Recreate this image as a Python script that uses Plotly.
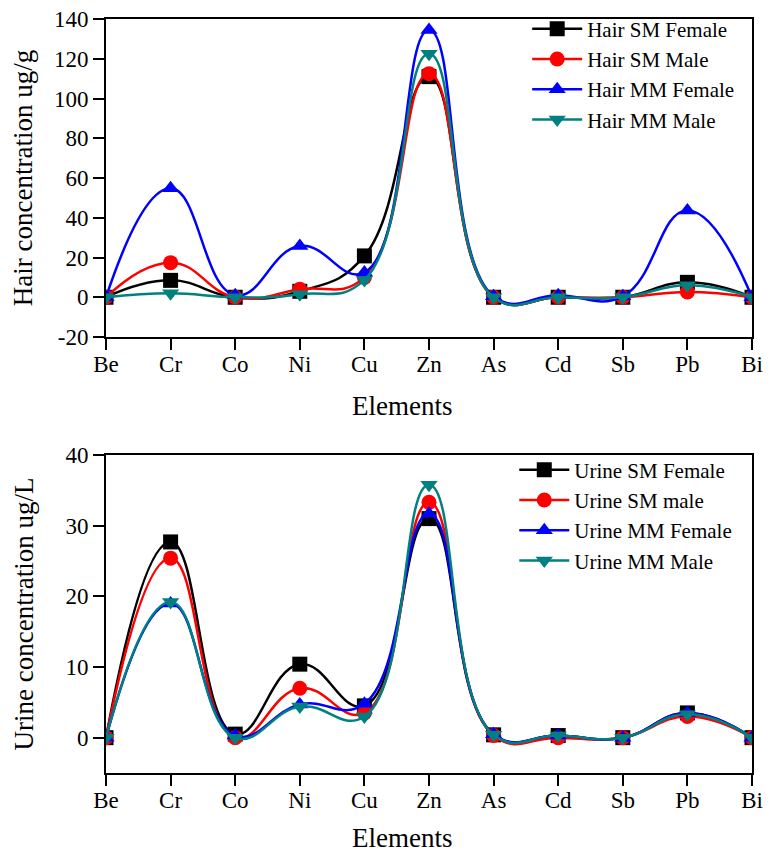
import plotly.graph_objects as go
from plotly.subplots import make_subplots

elements = ["Be", "Cr", "Co", "Ni", "Cu", "Zn", "As", "Cd", "Sb", "Pb", "Bi"]

hair_sm_female = [0, 8.5, 0, 3.0, 20.8, 111, 0, 0, 0, 7.5, 0]
hair_sm_male = [0, 17.4, 0, 4.0, 10.0, 112.5, 0, 0, 0, 2.7, 0]
hair_mm_female = [0, 54.8, 1.0, 25.8, 12.5, 134.5, 0.5, 1.0, 0.5, 43.7, 0]
hair_mm_male = [0, 2.0, 0, 1.5, 8.7, 122.5, 0, 0, 0, 6.0, 0]

urine_sm_female = [0, 27.7, 0.5, 10.4, 4.5, 31.0, 0.4, 0.3, 0, 3.5, 0]
urine_sm_male = [0, 25.4, 0, 7.0, 3.5, 33.3, 0.3, 0, 0, 3.0, 0]
urine_mm_female = [0, 19.0, 0.3, 4.7, 4.8, 31.7, 0.5, 0.3, 0, 3.5, 0]
urine_mm_male = [0, 19.2, 0, 4.4, 3.0, 35.8, 0.4, 0.3, 0, 3.3, 0]

hair_ticks = [-20, 0, 20, 40, 60, 80, 100, 120, 140]
hair_tick_text = ["-20", "0", "20", "40", "60", "80", "100", "120", "140"]
urine_ticks = [0, 10, 20, 30, 40]
urine_tick_text = ["0", "10", "20", "30", "40"]

hair_names = ["Hair SM Female", "Hair SM Male", "Hair MM Female", "Hair MM Male"]
urine_names = ["Urine SM Female", "Urine SM male", "Urine MM Female", "Urine MM Male"]
colors = ["#000000", "#FF0000", "#0000FF", "#008080"]
symbols = ["square", "circle", "triangle-up", "triangle-down"]

FONT = "Liberation Serif"

fig = make_subplots(rows=2, cols=1, vertical_spacing=0.0)

hair = [hair_sm_female, hair_sm_male, hair_mm_female, hair_mm_male]
urine = [urine_sm_female, urine_sm_male, urine_mm_female, urine_mm_male]

for i in range(4):
    fig.add_trace(go.Scatter(
        x=list(range(len(elements))), y=hair[i], name=hair_names[i],
        mode="lines+markers",
        line=dict(color=colors[i], width=2.5, shape="spline", smoothing=1.3),
        marker=dict(symbol=symbols[i], size=15, color=colors[i]),
        legend="legend"), row=1, col=1)
for i in range(4):
    fig.add_trace(go.Scatter(
        x=list(range(len(elements))), y=urine[i], name=urine_names[i],
        mode="lines+markers",
        line=dict(color=colors[i], width=2.5, shape="spline", smoothing=1.3),
        marker=dict(symbol=symbols[i], size=15, color=colors[i]),
        legend="legend2"), row=2, col=1)

axis_common = dict(showline=True, linecolor="black", linewidth=2, mirror=True,
                   ticks="outside", ticklen=11, tickwidth=2, tickcolor="black",
                   showgrid=False, zeroline=False, automargin=False,
                   ticklabeloverflow="allow",
                   tickfont=dict(family=FONT, size=23, color="black"))

# page body adds an 8px offset; figure sized to compensate
W, H = 763, 846
ML, MR, MT, MB = 98, 19, 11, 81
plot_h = H - MT - MB
plot_w = W - ML - MR
top_dom = [(765 - 329) / plot_h, 1.0]
bot_dom = [0.0, (765 - 447) / plot_h]

fig.update_xaxes(**axis_common, range=[0, 10],
                 tickvals=list(range(len(elements))), ticktext=elements,
                 ticklabelstandoff=-6)
fig.update_yaxes(**axis_common)

fig.update_yaxes(range=[-20, 140], tickvals=hair_ticks, ticktext=hair_tick_text,
                 domain=top_dom, row=1, col=1,
                 title=dict(text="Hair concentration ug/g", font=dict(family=FONT, size=27, color="black"), standoff=14))
fig.update_yaxes(range=[-5, 40], tickvals=urine_ticks, ticktext=urine_tick_text,
                 domain=bot_dom, row=2, col=1,
                 title=dict(text="Urine concentration ug/L", font=dict(family=FONT, size=27, color="black"), standoff=24))
fig.update_xaxes(row=1, col=1, anchor="y")
fig.update_xaxes(row=2, col=1, anchor="y2")

x_title_x = (394 - ML) / plot_w
for fig_y in (398, 830):
    fig.add_annotation(text="Elements", xref="paper", yref="paper",
                       x=x_title_x, y=(765 - fig_y) / plot_h,
                       xanchor="center", yanchor="middle", showarrow=False,
                       font=dict(family=FONT, size=27, color="black"))

legend_common = dict(font=dict(family=FONT, size=21, color="black"),
                     bgcolor="rgba(0,0,0,0)", xanchor="left", yanchor="top",
                     tracegroupgap=0, itemwidth=50)

fig.update_layout(
    width=W, height=H,
    margin=dict(l=ML, r=MR, t=MT, b=MB, autoexpand=False),
    paper_bgcolor="white", plot_bgcolor="white",
    font=dict(family=FONT, color="black"),
    legend=dict(**legend_common, x=0.652, y=1 + 10.5 / plot_h),
    legend2=dict(**legend_common, x=0.632, y=bot_dom[1] + 5.5 / plot_h),
)

fig.write_html("out.html")
